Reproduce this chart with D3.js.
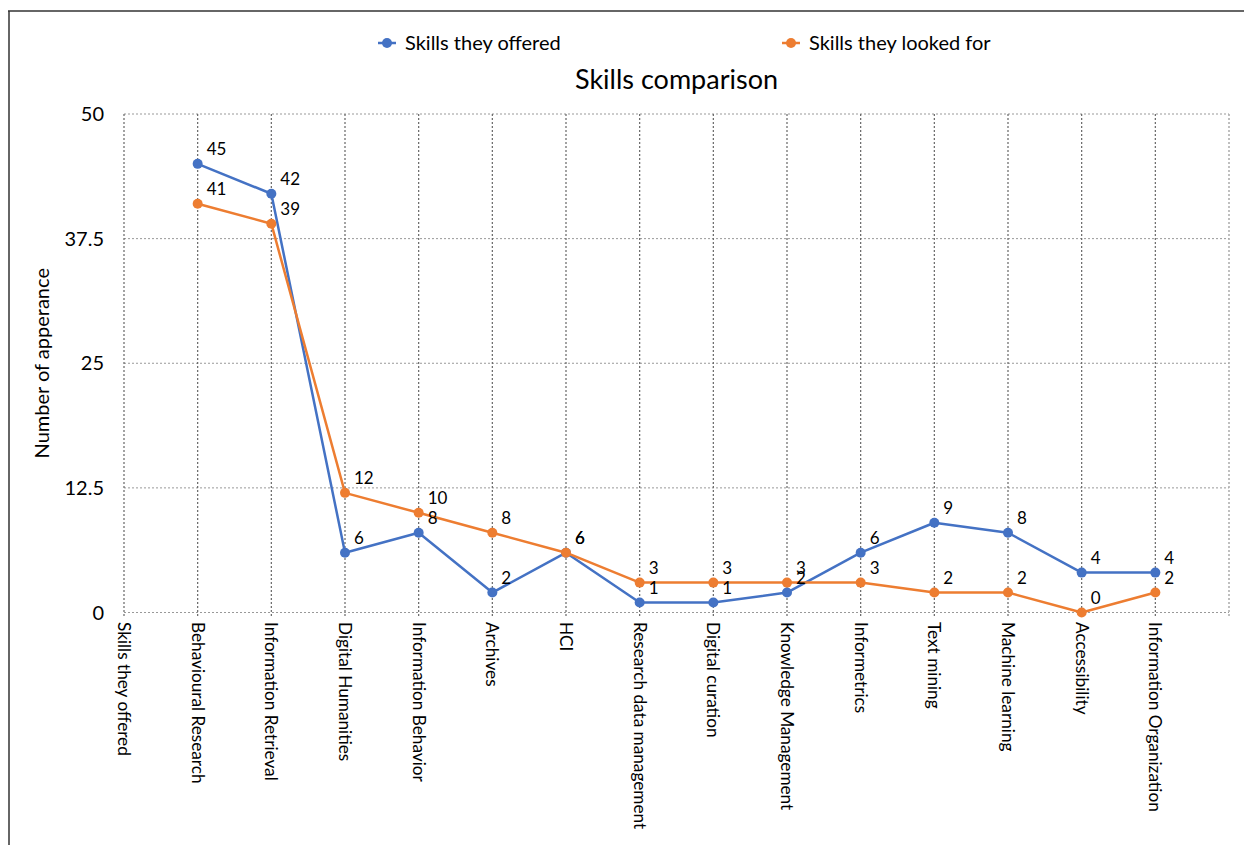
<!DOCTYPE html>
<html>
<head>
<meta charset="utf-8">
<script src="https://cdn.jsdelivr.net/npm/d3@7"></script>
<style>
  html, body { margin: 0; padding: 0; background: #fff; }
  svg { display: block; }
  text { font-family: Lato, "Open Sans", sans-serif; fill: #000; }
</style>
</head>
<body>
<svg id="chart" width="1244" height="845"></svg>
<script>
const categories = ["Skills they offered", "Behavioural Research", "Information Retrieval", "Digital Humanities",
  "Information Behavior", "Archives", "HCI", "Research data management", "Digital curation",
  "Knowledge Management", "Informetrics", "Text mining", "Machine learning", "Accessibility",
  "Information Organization"];
const offered =   [null, 45, 42, 6, 8, 2, 6, 1, 1, 2, 6, 9, 8, 4, 4];
const lookedFor = [null, 41, 39, 12, 10, 8, 6, 3, 3, 3, 3, 2, 2, 0, 2];
const yTicks = [0, 12.5, 25, 37.5, 50];
const seriesNames = ["Skills they offered", "Skills they looked for"];
const colors = ["#4472C4", "#ED7D31"];

const svg = d3.select("#chart");
const pLeft = 124, pRight = 1229, pTop = 114, pBottom = 612.5;

const x = d3.scaleLinear().domain([0, categories.length]).range([pLeft, pRight]);
const y = d3.scaleLinear().domain([0, 50]).range([pBottom, pTop]);

// outer frame
svg.append("line").attr("x1", 8).attr("x2", 1244).attr("y1", 11).attr("y2", 11)
  .attr("stroke", "#333").attr("stroke-width", 1.5);
svg.append("line").attr("x1", 9).attr("x2", 9).attr("y1", 11).attr("y2", 845)
  .attr("stroke", "#333").attr("stroke-width", 1.5);

// horizontal gridlines
svg.append("g").selectAll("line").data(yTicks).join("line")
  .attr("x1", pLeft).attr("x2", pRight)
  .attr("y1", d => y(d)).attr("y2", d => y(d))
  .attr("stroke", "#999").attr("stroke-width", 1).attr("stroke-dasharray", "2,2");

// vertical gridlines
svg.append("g").selectAll("line").data(d3.range(categories.length + 1)).join("line")
  .attr("x1", d => x(d)).attr("x2", d => x(d))
  .attr("y1", pTop).attr("y2", pBottom + 5)
  .attr("stroke", d => (d === categories.length ? "#aaa" : "#666"))
  .attr("stroke-width", d => (d === categories.length ? 1.5 : 1.2))
  .attr("stroke-dasharray", "2,2");

// y tick labels
svg.append("g").selectAll("text").data(yTicks).join("text")
  .attr("x", 104).attr("y", d => y(d)).attr("dy", "0.35em")
  .attr("text-anchor", "end").style("font-size", "20px")
  .text(d => d);

// y axis title
svg.append("text")
  .attr("transform", `translate(49,${(pTop + pBottom) / 2}) rotate(-90)`)
  .attr("text-anchor", "middle").style("font-size", "20px")
  .text("Number of apperance");

// x tick labels
svg.append("g").selectAll("text").data(categories).join("text")
  .attr("transform", (d, i) => `translate(${x(i)},622) rotate(90)`)
  .attr("dy", "0.35em").attr("text-anchor", "start").style("font-size", "17.2px")
  .text(d => d);

// title
svg.append("text").attr("x", (pLeft + pRight) / 2).attr("y", 89)
  .attr("text-anchor", "middle").style("font-size", "27px")
  .text("Skills comparison");

// legend
const legendX = [387, 791];
const lg = svg.append("g").selectAll("g").data(seriesNames).join("g")
  .attr("transform", (d, i) => `translate(${legendX[i]},43)`);
lg.append("line").attr("x1", -9).attr("x2", 9).attr("stroke", (d, i) => colors[i]).attr("stroke-width", 2.5);
lg.append("circle").attr("r", 5).attr("fill", (d, i) => colors[i]);
lg.append("text").attr("x", 18).attr("dy", "0.35em").style("font-size", "20px").text(d => d);

// series
const allSeries = [offered, lookedFor];
const line = d3.line().x(d => x(d.i)).y(d => y(d.v));
allSeries.forEach((vals, s) => {
  const pts = vals.map((v, i) => ({ v, i })).filter(d => d.v !== null);
  const g = svg.append("g");
  g.append("path").datum(pts).attr("d", line)
    .attr("fill", "none").attr("stroke", colors[s]).attr("stroke-width", 2.5)
    .attr("stroke-linejoin", "round");
  g.selectAll("circle").data(pts).join("circle")
    .attr("cx", d => x(d.i)).attr("cy", d => y(d.v)).attr("r", 5)
    .attr("fill", colors[s]);
});
// data labels (drawn last, on top)
allSeries.forEach((vals, s) => {
  const pts = vals.map((v, i) => ({ v, i })).filter(d => d.v !== null);
  svg.append("g").selectAll("text").data(pts).join("text")
    .attr("x", d => x(d.i) + 9).attr("y", d => y(d.v) - 9)
    .style("font-size", "17px")
    .text(d => d.v);
});
</script>
</body>
</html>
